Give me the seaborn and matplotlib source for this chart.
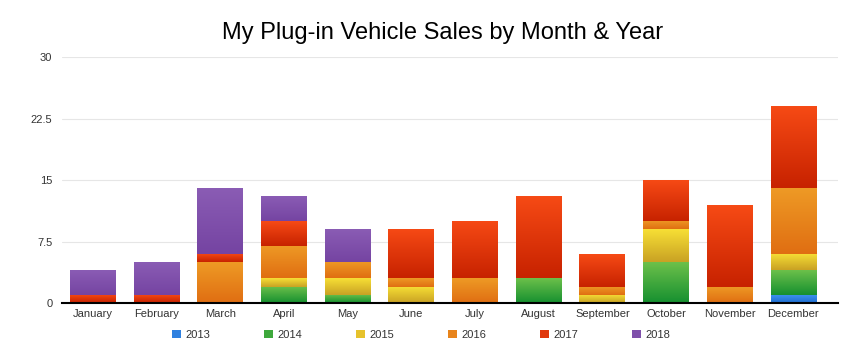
import numpy as np
import pandas as pd
import matplotlib
matplotlib.use('Agg')
import matplotlib.pyplot as plt
import matplotlib.colors as mcolors
from matplotlib.patches import Patch
import seaborn as sns

# Chart data
months = ['January', 'February', 'March', 'April', 'May', 'June', 'July',
          'August', 'September', 'October', 'November', 'December']
years = ['2013', '2014', '2015', '2016', '2017', '2018']
sales_2013 = [0, 0, 0, 0, 0, 0, 0, 0, 0, 0, 0, 1]
sales_2014 = [0, 0, 0, 2, 1, 0, 0, 3, 0, 5, 0, 3]
sales_2015 = [0, 0, 0, 1, 2, 2, 0, 0, 1, 4, 0, 2]
sales_2016 = [0, 0, 5, 4, 2, 1, 3, 0, 1, 1, 2, 8]
sales_2017 = [1, 1, 1, 3, 0, 6, 7, 10, 4, 5, 10, 10]
sales_2018 = [3, 4, 8, 3, 4, 0, 0, 0, 0, 0, 0, 0]
y_ticks = [0, 7.5, 15, 22.5, 30]
y_tick_labels = ['0', '7.5', '15', '22.5', '30']

# colours: mid, top, bottom of each gradient
mid_colors = {'2013': '#2f81e0', '2014': '#3ea83c', '2015': '#e6c22c',
              '2016': '#e8841b', '2017': '#e0380c', '2018': '#7f50ab'}
top_colors = {'2013': '#3f93f0', '2014': '#6cc04a', '2015': '#f7df35',
              '2016': '#ee9a25', '2017': '#f64a15', '2018': '#8a5cb4'}
bottom_colors = {'2013': '#1f6fd0', '2014': '#169030', '2015': '#c9a224',
                 '2016': '#e06e12', '2017': '#c72200', '2018': '#7544a2'}

all_sales = [sales_2013, sales_2014, sales_2015, sales_2016, sales_2017, sales_2018]
rows = []
for year, vals in zip(years, all_sales):
    for m, v in zip(months, vals):
        rows.append({'month': m, 'year': year, 'sales': v})
df = pd.DataFrame(rows)

sns.set_style('white')
plt.rcParams['font.family'] = ['Liberation Sans', 'DejaVu Sans']

fig = plt.figure(figsize=(8.42, 3.6), dpi=100)
ax = fig.add_axes([62 / 842, 1 - 303 / 360, 776 / 842, 246 / 360])

# seaborn stacks the first hue level on top, so reverse the order
sns.histplot(data=df, x='month', weights='sales', hue='year',
             hue_order=years[::-1], palette=mid_colors, multiple='stack',
             discrete=True, shrink=0.72, linewidth=0, alpha=1,
             legend=False, ax=ax)

# vertical gradient on each segment
col_to_year = {mcolors.to_hex(c): y for y, c in mid_colors.items()}
for p in list(ax.patches):
    h = p.get_height()
    if h <= 0:
        continue
    yr = col_to_year.get(mcolors.to_hex(p.get_facecolor()[:3]))
    if yr is None:
        continue
    top = np.array(mcolors.to_rgb(top_colors[yr]))
    bot = np.array(mcolors.to_rgb(bottom_colors[yr]))
    t = np.linspace(0, 1, 64)[:, None]
    grad = (top * (1 - t) + bot * t)[:, None, :]
    x0, y0, w = p.get_x(), p.get_y(), p.get_width()
    im = ax.imshow(grad, extent=[x0, x0 + w, y0, y0 + h], aspect='auto',
                   origin='upper', zorder=p.get_zorder() + 0.1,
                   interpolation='bilinear')
    im.set_clip_path(p)

ax.set_xlim(-0.487, 11.7)
ax.set_ylim(0, 30)
ax.set_yticks(y_ticks)
ax.set_yticklabels(y_tick_labels)
ax.set_xticks(range(len(months)))
ax.set_xticklabels(months)
ax.tick_params(axis='both', length=0, labelsize=8, colors='#333333')
ax.tick_params(axis='y', pad=7)
ax.tick_params(axis='x', pad=4)
ax.yaxis.grid(True, color='#e6e6e6', linewidth=0.8)
ax.set_axisbelow(True)
ax.set_xlabel('')
ax.set_ylabel('')
for s in ['top', 'right', 'left']:
    ax.spines[s].set_visible(False)
ax.spines['bottom'].set_color('black')
ax.spines['bottom'].set_linewidth(1.5)
ax.spines['bottom'].set_zorder(5)

fig.text(443 / 842, 1 - 33 / 360, 'My Plug-in Vehicle Sales by Month & Year',
         ha='center', va='center', fontsize=17, color='black')

handles = [Patch(facecolor=mid_colors[y], edgecolor='none', label=y) for y in years]
fig.legend(handles=handles, loc='center', bbox_to_anchor=(421 / 842, 1 - 335 / 360),
           ncol=6, frameon=False, fontsize=8, handlelength=0.8, handleheight=0.8,
           handletextpad=0.4, columnspacing=4.85, labelcolor='#333333')

fig.savefig('out.png', dpi=100)
